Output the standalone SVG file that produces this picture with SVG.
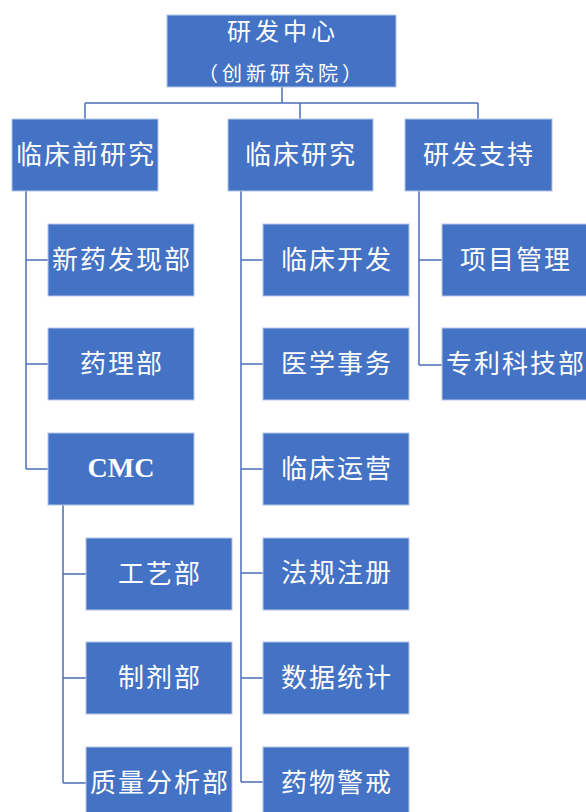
<svg xmlns="http://www.w3.org/2000/svg" width="586" height="812" viewBox="0 0 586 812">
<style>
.box{fill:#4472C4;stroke:#B4C7E7;stroke-width:1}
.t{fill:#fff;font-family:"Noto Sans CJK SC","Noto Sans",sans-serif;font-size:26px;letter-spacing:2px;text-anchor:middle;dominant-baseline:central}
.cmc{fill:#fff;font-family:"Liberation Serif",serif;font-weight:bold;font-size:28px;text-anchor:middle;dominant-baseline:central}
.c{fill:none;stroke:#4A6FB8;stroke-width:1.5}
</style>
<rect width="586" height="812" fill="#fff"/>
<g id="connectors" class="c">
<path d="M282 87V103M85 103H478M85 103V119M300 103V119M478 103V119"/>
<path d="M26 191V469M26 260H48M26 364H48M26 469H48"/>
<path d="M241 191V782M241 260H263M241 364H263M241 469H263M241 573H263M241 678H263M241 782H263"/>
<path d="M419 191V365M419 260H442M419 365H442"/>
<path d="M63 505V783M63 574H86M63 678H86M63 783H86"/>
</g>
<g id="n-center"><rect class="box" x="167" y="15" width="229" height="72"/>
<text class="t" x="283" y="29" style="font-size:24px;letter-spacing:4px">研发中心</text>
<text class="t" x="282" y="72" style="font-size:20px;letter-spacing:4px">（创新研究院）</text></g>
<g id="n-preclinical"><rect class="box" x="12" y="119" width="146" height="72"/><text class="t" x="86" y="152">临床前研究</text></g>
<g id="n-clinical"><rect class="box" x="228" y="119" width="145" height="72"/><text class="t" x="301" y="152">临床研究</text></g>
<g id="n-support"><rect class="box" x="405" y="119" width="147" height="72"/><text class="t" x="479" y="152">研发支持</text></g>
<g id="n-discovery"><rect class="box" x="48" y="224" width="146" height="72"/><text class="t" x="122" y="257">新药发现部</text></g>
<g id="n-pharm"><rect class="box" x="48" y="328" width="146" height="72"/><text class="t" x="122" y="361">药理部</text></g>
<g id="n-cmc"><rect class="box" x="48" y="433" width="146" height="72"/><text class="cmc" x="121" y="467">CMC</text></g>
<g id="n-process"><rect class="box" x="86" y="538" width="146" height="72"/><text class="t" x="160" y="571">工艺部</text></g>
<g id="n-formulation"><rect class="box" x="86" y="642" width="146" height="72"/><text class="t" x="160" y="675">制剂部</text></g>
<g id="n-qa"><rect class="box" x="86" y="747" width="146" height="72"/><text class="t" x="160" y="780">质量分析部</text></g>
<g id="n-clindev"><rect class="box" x="263" y="224" width="146" height="72"/><text class="t" x="337" y="257">临床开发</text></g>
<g id="n-medaff"><rect class="box" x="263" y="328" width="146" height="72"/><text class="t" x="337" y="361">医学事务</text></g>
<g id="n-clinops"><rect class="box" x="263" y="433" width="146" height="72"/><text class="t" x="337" y="466">临床运营</text></g>
<g id="n-reg"><rect class="box" x="263" y="538" width="146" height="72"/><text class="t" x="337" y="570">法规注册</text></g>
<g id="n-stats"><rect class="box" x="263" y="642" width="146" height="72"/><text class="t" x="337" y="675">数据统计</text></g>
<g id="n-pv"><rect class="box" x="263" y="747" width="146" height="72"/><text class="t" x="337" y="780">药物警戒</text></g>
<g id="n-pm"><rect class="box" x="442" y="224" width="146" height="72"/><text class="t" x="516" y="257">项目管理</text></g>
<g id="n-patent"><rect class="box" x="442" y="328" width="146" height="72"/><text class="t" x="516" y="361">专利科技部</text></g>
</svg>
